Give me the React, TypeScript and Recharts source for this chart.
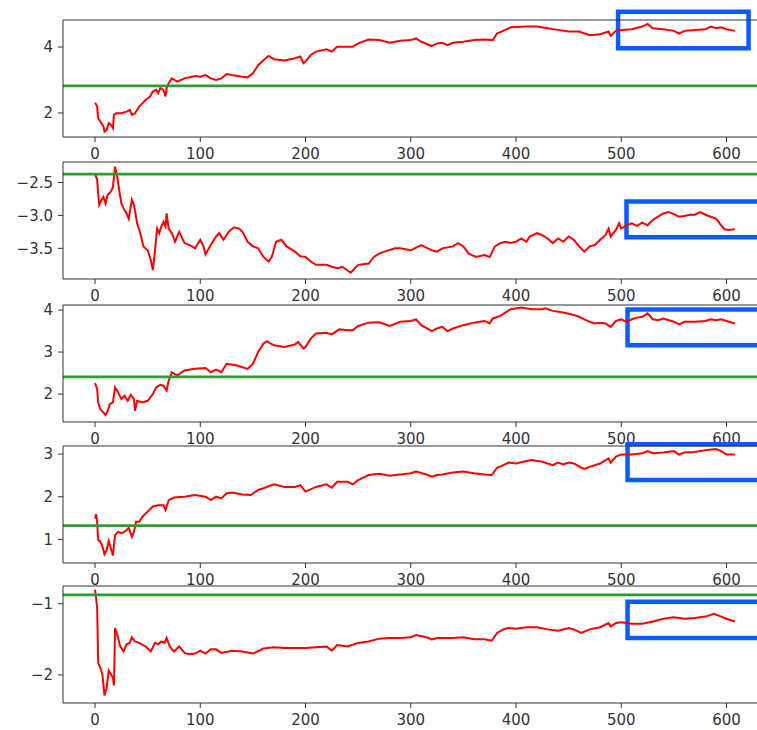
import React from "react";
import { LineChart, Line, XAxis, YAxis, ReferenceLine, ReferenceArea } from "recharts";

// x ticks shared by every panel
const xTicks = [0, 100, 200, 300, 400, 500, 600];

// panel 1
const idx1 = [0,2,3,5,8,9,11,13,15,17,18,20,25,30,33,35,38,42,45,48,52,55,58,60,62,65,67,68,70,73,78,85,95,100,105,110,115,120,125,130,140,145,150,155,160,165,170,180,190,195,198,200,205,210,220,225,230,240,245,250,260,270,280,290,300,305,310,320,325,330,335,340,350,360,370,378,382,390,395,410,420,430,440,450,460,470,480,488,490,495,500,510,520,525,530,540,550,555,560,570,580,585,590,595,600,608];
const val1 = [2.31,2.2,1.84,1.74,1.59,1.43,1.48,1.69,1.64,1.54,1.94,1.99,1.99,2.04,2.09,1.94,1.99,2.19,2.29,2.39,2.49,2.65,2.7,2.6,2.75,2.7,2.5,2.75,2.9,3.05,2.95,3.05,3.12,3.1,3.15,3.05,3.0,3.05,3.18,3.15,3.1,3.08,3.2,3.45,3.6,3.73,3.63,3.59,3.66,3.71,3.51,3.56,3.76,3.86,3.93,3.86,4.01,4.01,4.01,4.11,4.23,4.21,4.13,4.19,4.21,4.26,4.16,4.03,4.11,4.13,4.06,4.13,4.16,4.21,4.23,4.21,4.41,4.52,4.6,4.62,4.62,4.57,4.52,4.47,4.47,4.36,4.39,4.47,4.34,4.49,4.52,4.54,4.62,4.7,4.57,4.54,4.49,4.41,4.49,4.52,4.54,4.62,4.57,4.6,4.54,4.49];

// panel 2
const idx2 = [0,2,3,4,6,8,10,12,15,17,19,21,23,25,27,30,32,35,37,40,43,46,50,53,55,57,59,61,63,65,67,68,70,73,76,80,85,90,95,100,103,105,110,115,118,122,127,132,137,140,145,150,155,160,165,168,172,177,182,190,195,200,205,210,220,225,230,235,243,250,260,265,270,275,285,290,300,310,320,325,330,340,345,350,355,362,370,375,380,385,390,395,400,405,410,413,420,425,430,435,440,445,450,455,460,465,470,475,480,485,488,490,495,498,500,505,510,515,520,525,530,535,540,545,550,555,560,565,570,575,580,585,590,595,598,602,608];
const val2 = [-2.37,-2.46,-2.67,-2.84,-2.77,-2.72,-2.82,-2.69,-2.64,-2.57,-2.26,-2.41,-2.62,-2.82,-2.89,-2.97,-3.05,-2.76,-2.84,-3.12,-3.27,-3.47,-3.53,-3.68,-3.83,-3.53,-3.2,-3.27,-3.17,-3.1,-3.17,-2.97,-3.2,-3.27,-3.4,-3.25,-3.42,-3.45,-3.5,-3.37,-3.47,-3.59,-3.45,-3.32,-3.27,-3.37,-3.25,-3.18,-3.2,-3.25,-3.4,-3.47,-3.5,-3.63,-3.7,-3.63,-3.4,-3.37,-3.47,-3.55,-3.62,-3.63,-3.7,-3.75,-3.75,-3.78,-3.8,-3.78,-3.87,-3.75,-3.73,-3.63,-3.58,-3.55,-3.5,-3.5,-3.53,-3.45,-3.53,-3.55,-3.5,-3.47,-3.42,-3.47,-3.58,-3.63,-3.6,-3.63,-3.47,-3.42,-3.4,-3.42,-3.4,-3.35,-3.4,-3.32,-3.27,-3.3,-3.35,-3.42,-3.35,-3.4,-3.32,-3.37,-3.47,-3.55,-3.47,-3.45,-3.37,-3.3,-3.2,-3.32,-3.22,-3.12,-3.2,-3.15,-3.12,-3.16,-3.11,-3.15,-3.07,-3.02,-2.97,-2.95,-2.98,-3.02,-3.01,-2.99,-2.99,-2.95,-2.99,-3.02,-3.05,-3.15,-3.21,-3.22,-3.21];

// panel 3
const idx3 = [0,2,3,5,8,10,12,14,17,19,22,25,28,31,34,37,38,40,45,50,55,58,62,65,68,70,73,78,85,95,105,110,115,120,125,135,145,150,155,160,163,170,180,190,193,198,200,205,210,220,225,232,240,245,250,260,270,280,290,300,305,310,320,325,330,335,340,350,360,370,375,378,385,395,405,415,425,428,435,445,455,460,465,470,475,480,485,490,495,500,505,510,515,520,525,530,535,540,550,555,560,570,580,585,590,595,600,608];
const val3 = [2.26,2.12,1.8,1.64,1.56,1.5,1.6,1.76,1.8,2.16,2.04,1.88,1.96,1.84,1.98,1.88,1.6,1.84,1.8,1.84,2.0,2.16,2.22,2.2,2.08,2.32,2.52,2.44,2.56,2.6,2.62,2.52,2.58,2.52,2.72,2.68,2.6,2.72,3.0,3.2,3.26,3.16,3.12,3.18,3.24,3.08,3.12,3.32,3.44,3.46,3.42,3.54,3.52,3.52,3.62,3.7,3.71,3.62,3.72,3.74,3.78,3.64,3.5,3.56,3.6,3.5,3.56,3.64,3.7,3.74,3.68,3.8,3.86,4.02,4.06,4.02,4.02,4.04,3.98,3.94,3.88,3.84,3.78,3.72,3.68,3.7,3.68,3.6,3.74,3.78,3.72,3.78,3.82,3.84,3.92,3.78,3.76,3.8,3.72,3.66,3.72,3.72,3.74,3.78,3.76,3.78,3.74,3.68];

// panel 4
const idx4 = [0,1,2,3,5,7,9,11,13,15,17,19,22,25,28,30,32,35,37,39,42,45,50,55,60,65,67,70,75,85,95,105,110,115,120,125,130,140,148,155,160,170,180,190,195,200,210,220,225,230,240,245,250,260,270,280,290,300,305,315,320,325,330,340,350,360,370,377,382,388,393,400,410,415,425,430,435,440,445,450,455,462,465,470,480,488,490,495,500,510,520,525,530,540,550,555,560,570,580,590,595,600,608];
const val4 = [1.49,1.59,1.41,0.98,0.95,0.83,0.65,0.75,0.96,0.79,0.62,1.1,1.18,1.14,1.18,1.22,1.27,1.06,1.18,1.41,1.41,1.53,1.65,1.77,1.8,1.8,1.69,1.92,1.98,2.0,2.04,2.0,1.92,2.0,1.96,2.08,2.1,2.05,2.04,2.16,2.2,2.29,2.23,2.23,2.27,2.12,2.23,2.29,2.21,2.35,2.35,2.29,2.39,2.51,2.54,2.49,2.52,2.55,2.59,2.52,2.47,2.51,2.52,2.57,2.59,2.55,2.52,2.51,2.68,2.74,2.8,2.78,2.84,2.86,2.82,2.78,2.74,2.8,2.76,2.8,2.78,2.68,2.65,2.7,2.78,2.9,2.8,2.94,2.99,2.99,3.02,3.07,3.02,3.04,3.07,2.99,3.04,3.05,3.09,3.12,3.07,2.99,2.99];

// panel 5
const idx5 = [0,1,2,3,5,7,9,11,13,15,17,18,19,21,24,27,30,33,35,38,42,48,53,57,60,63,66,68,71,75,80,85,90,95,100,105,110,115,120,130,140,150,160,170,180,190,200,210,220,225,230,240,250,260,270,280,290,300,305,315,320,325,340,350,360,370,377,382,388,393,400,410,420,430,440,450,455,462,470,480,488,490,495,500,510,520,530,540,550,560,570,580,588,595,600,608];
const val5 = [-0.8,-0.92,-1.06,-1.83,-1.9,-1.99,-2.29,-2.18,-1.94,-1.99,-2.04,-2.15,-1.34,-1.43,-1.6,-1.67,-1.57,-1.55,-1.47,-1.53,-1.55,-1.6,-1.67,-1.55,-1.57,-1.53,-1.55,-1.48,-1.6,-1.67,-1.6,-1.69,-1.71,-1.7,-1.66,-1.7,-1.64,-1.64,-1.69,-1.66,-1.67,-1.7,-1.63,-1.61,-1.62,-1.62,-1.62,-1.61,-1.6,-1.66,-1.58,-1.6,-1.55,-1.53,-1.49,-1.48,-1.48,-1.47,-1.44,-1.47,-1.5,-1.48,-1.48,-1.47,-1.5,-1.5,-1.52,-1.41,-1.36,-1.34,-1.35,-1.33,-1.33,-1.36,-1.38,-1.34,-1.36,-1.41,-1.36,-1.33,-1.27,-1.32,-1.27,-1.26,-1.28,-1.28,-1.25,-1.21,-1.19,-1.21,-1.2,-1.18,-1.14,-1.18,-1.21,-1.25];

// green reference levels per panel
const greenLevels = [2.82, -2.375, 2.41, 1.32, -0.875];

// y tick labels per panel
const yTicks1 = [2, 4];
const yTicks2 = [-3.5, -3.0, -2.5];
const yTicks3 = [2, 3, 4];
const yTicks4 = [1, 2, 3];
const yTicks5 = [-2, -1];

// blue highlight boxes [x1, x2, y1, y2]
const box1 = [497, 621, 3.96, 5.07];
const box2 = [505, 660, -3.33, -2.79];
const box3 = [506, 660, 3.16, 4.01];
const box4 = [506, 660, 2.395, 3.23];
const box5 = [506, 660, -1.48, -0.97];

const zip = (xs: number[], ys: number[]) => xs.map((i, k) => ({ i, v: ys[k] }));

const panels = [
  { data: zip(idx1, val1), domain: [1.27, 4.82], ticks: yTicks1, dec: 0, box: box1, top: 20 },
  { data: zip(idx2, val2), domain: [-3.965, -2.19], ticks: yTicks2, dec: 1, box: box2, top: 162 },
  { data: zip(idx3, val3), domain: [1.335, 4.12], ticks: yTicks3, dec: 0, box: box3, top: 305 },
  { data: zip(idx4, val4), domain: [0.445, 3.19], ticks: yTicks4, dec: 0, box: box4, top: 446 },
  { data: zip(idx5, val5), domain: [-2.395, -0.75], ticks: yTicks5, dec: 0, box: box5, top: 586 },
];

// the figure is cropped on the right: the visible part of the x range ends near 629
const xDomain = [-30.45, 629];
const MT = 15;
const PLOT_H = 117;
const XH = 25;
const CHART_W = 757;
const axisColor = "#333";
const tickStyle = { fontSize: 15, fill: "#333", fontFamily: "DejaVu Sans" };

const fmt = (dec: number) => (v: number) =>
  (v < 0 ? "\u2212" : "") + Math.abs(v).toFixed(dec);

export default function App() {
  return (
    <div style={{ position: "relative", width: 757, height: 730, background: "#fff" }}>
      <style>{"html,body{margin:0;padding:0;overflow:hidden;}"}</style>
      {panels.map((p, n) => (
        <div
          key={n}
          style={{ position: "absolute", left: 0, top: p.top - MT, width: CHART_W, height: MT + PLOT_H + XH }}
        >
          <LineChart
            width={CHART_W}
            height={MT + PLOT_H + XH}
            data={p.data}
            margin={{ top: MT, right: 0, bottom: 0, left: 0 }}
          >
            <XAxis
              dataKey="i"
              type="number"
              domain={xDomain}
              ticks={xTicks}
              interval={0}
              allowDataOverflow
              height={XH}
              tickSize={5}
              tickMargin={6}
              tick={tickStyle}
              stroke={axisColor}
            />
            <YAxis
              type="number"
              domain={p.domain}
              ticks={p.ticks}
              interval={0}
              allowDataOverflow
              width={63}
              tickSize={5}
              tickMargin={5}
              tick={tickStyle}
              tickFormatter={fmt(p.dec)}
              stroke={axisColor}
            />
            <ReferenceLine y={p.domain[1]} stroke={axisColor} strokeWidth={1.2} ifOverflow="visible" />
            <Line
              type="linear"
              dataKey="v"
              stroke="#ff0000"
              strokeWidth={2}
              dot={false}
              isAnimationActive={false}
            />
            <ReferenceLine y={greenLevels[n]} stroke="#339933" strokeWidth={2.8} />
            <ReferenceArea
              x1={p.box[0]}
              x2={p.box[1]}
              y1={p.box[2]}
              y2={p.box[3]}
              fill="none"
              fillOpacity={0}
              stroke="#0a5cff"
              strokeWidth={4.5}
              ifOverflow="visible"
            />
          </LineChart>
        </div>
      ))}
    </div>
  );
}
